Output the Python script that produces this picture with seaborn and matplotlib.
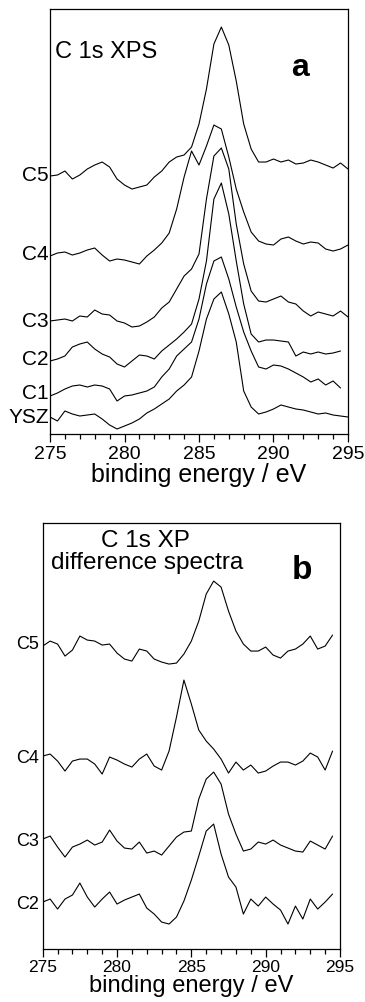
import numpy as np
import pandas as pd
import matplotlib
matplotlib.use("Agg")
import matplotlib.pyplot as plt
import matplotlib.transforms as mtransforms
from matplotlib.ticker import MultipleLocator
import seaborn as sns

# ---------------- data (arbitrary intensity units) -------------
energy_a = np.arange(275.0, 295.01, 0.5)   # 41 points
energy_b = np.arange(275.0, 294.51, 0.5)   # 40 points

nan = np.nan
# panel a: C 1s XPS spectra
a_C5 = [258, 259, 263, 255, 259, 265, 269, 272, 267, 255, 249, 245, 247, 249, 257, 263, 272, 277, 279, 287,
        310, 345, 390, 407, 389, 353, 310, 285, 272, 272, 275, 272, 274, 270, 271, 274, 272, 269, 266, 271, 265]
a_C4 = [178, 181, 182, 179, 181, 184, 186, 179, 173, 175, 174, 172, 170, 178, 184, 191, 201, 225, 257, 283,
        269, 288, 309, 305, 277, 245, 222, 202, 193, 190, 189, 195, 197, 193, 190, 192, 191, 185, 183, 185, 189]
a_C3 = [113, 114, 115, 113, 118, 117, 124, 120, 119, 113, 111, 107, 108, 112, 117, 126, 132, 145, 158, 165,
        180, 235, 278, 286, 265, 210, 170, 143, 133, 132, 135, 138, 132, 130, 123, 118, 122, 120, 118, 123, 117]
a_C2 = [73, 75, 78, 87, 90, 92, 85, 80, 77, 70, 67, 73, 79, 78, 75, 83, 89, 95, 102, 110,
        135, 173, 235, 251, 220, 173, 130, 100, 92, 94, 94, 93, 92, 78, 82, 80, 82, 80, 81, 83, nan]
a_C1 = [38, 41, 45, 48, 49, 47, 49, 48, 45, 33, 38, 39, 41, 43, 47, 57, 65, 78, 85, 92,
        115, 150, 173, 177, 155, 127, 102, 83, 67, 65, 69, 68, 65, 61, 57, 52, 55, 49, 53, 46, nan]
a_YSZ = [17, 13, 23, 20, 18, 19, 20, 15, 9, 5, 8, 11, 15, 21, 25, 30, 35, 43, 49, 57,
         83, 115, 135, 142, 120, 92, 43, 27, 20, 22, 25, 29, 27, 25, 24, 22, 20, 21, 19, 18, 17]
names_a = ["C5", "C4", "C3", "C2", "C1", "YSZ"]
series_a = [a_C5, a_C4, a_C3, a_C2, a_C1, a_YSZ]

# panel b: C 1s XP difference spectra
b_C5 = [303, 308, 305, 293, 299, 313, 309, 308, 304, 305, 296, 290, 288, 300, 298, 290, 287, 285, 286, 295,
        308, 328, 355, 368, 362, 338, 318, 305, 298, 298, 302, 294, 291, 298, 300, 305, 313, 300, 303, 314]
b_C4 = [193, 195, 188, 178, 188, 190, 190, 185, 175, 192, 189, 185, 182, 190, 195, 183, 179, 198, 232, 269,
        245, 219, 208, 200, 190, 176, 187, 179, 184, 176, 178, 183, 187, 187, 184, 188, 196, 192, 179, 198]
b_C3 = [110, 113, 102, 92, 102, 105, 109, 104, 107, 119, 108, 101, 100, 107, 96, 98, 94, 103, 112, 117,
        118, 150, 170, 177, 165, 135, 115, 98, 100, 107, 105, 109, 104, 101, 98, 97, 108, 104, 100, 113]
b_C2 = [47, 50, 40, 50, 54, 66, 52, 42, 50, 57, 45, 49, 52, 55, 41, 35, 27, 25, 32, 48,
        69, 93, 118, 125, 95, 72, 62, 35, 50, 43, 52, 45, 39, 25, 43, 30, 50, 40, 47, 55]
names_b = ["C5", "C4", "C3", "C2"]
series_b = [b_C5, b_C4, b_C3, b_C2]

xticks = [275, 280, 285, 290, 295]
xlabel = "binding energy / eV"


def long_frame(energy, names, series):
    frames = []
    for n, s in zip(names, series):
        frames.append(pd.DataFrame({"energy": energy, "intensity": s, "series": n}))
    return pd.concat(frames, ignore_index=True).dropna()


df_a = long_frame(energy_a, names_a, series_a)
df_b = long_frame(energy_b, names_b, series_b)

# ---------------- style ----------------
sns.set_style("ticks")
plt.rcParams["font.family"] = ["Liberation Sans", "DejaVu Sans"]
plt.rcParams["axes.linewidth"] = 0.9
plt.rcParams["axes.edgecolor"] = "black"
plt.rcParams["text.color"] = "black"
plt.rcParams["axes.labelcolor"] = "black"
plt.rcParams["xtick.color"] = "black"
plt.rcParams["ytick.color"] = "black"

fig = plt.figure(figsize=(3.65, 10.03), dpi=100)
ax_a = fig.add_axes([0.137, 0.5663, 0.8164, 0.4237])
ax_b = fig.add_axes([0.117, 0.0528, 0.8145, 0.4247])


def style_axis(ax, ymax, ticksize, tickpad, labelsize, labelpad):
    ax.set_xlim(275, 295)
    ax.set_ylim(0, ymax)
    ax.set_yticks([])
    ax.set_ylabel("")
    ax.set_xticks(xticks)
    ax.xaxis.set_minor_locator(MultipleLocator(1))
    ax.tick_params(axis="x", which="major", direction="out", length=6, width=0.9,
                   labelsize=ticksize, pad=tickpad, colors="black")
    ax.tick_params(axis="x", which="minor", direction="out", length=3.5, width=0.9, colors="black")
    ax.set_xlabel(xlabel, fontsize=labelsize, labelpad=labelpad, color="black")
    for sp in ax.spines.values():
        sp.set_visible(True)
        sp.set_color("black")
        sp.set_linewidth(0.9)


for ax, df, names, series, ymax, lsize, gap in [
    (ax_a, df_a, names_a, series_a, 425, 15, 0.004),
    (ax_b, df_b, names_b, series_b, 426, 13, 0.014),
]:
    sns.lineplot(data=df, x="energy", y="intensity", units="series", estimator=None,
                 color="black", linewidth=0.8, ax=ax, legend=False)
    trans = mtransforms.blended_transform_factory(ax.transAxes, ax.transData)
    for n, s in zip(names, series):
        ax.text(-gap, np.nanmean(s[:3]), n, transform=trans, ha="right", va="center",
                fontsize=lsize, color="black")

style_axis(ax_a, 425, 14, 2, 18, 0)
style_axis(ax_b, 426, 12.5, 1, 17, 0.5)

ax_a.text(0.017, 0.901, "C 1s XPS", transform=ax_a.transAxes, ha="left", va="center",
          fontsize=17, color="black")
ax_a.text(0.839, 0.8635, "a", transform=ax_a.transAxes, ha="center", va="center",
          fontsize=23, fontweight="bold", color="black")

ax_b.text(0.347, 0.960, "C 1s XP", transform=ax_b.transAxes, ha="center", va="center",
          fontsize=17.5, color="black")
ax_b.text(0.351, 0.908, "difference spectra", transform=ax_b.transAxes, ha="center", va="center",
          fontsize=17.5, color="black")
ax_b.text(0.872, 0.892, "b", transform=ax_b.transAxes, ha="center", va="center",
          fontsize=24, fontweight="bold", color="black")

fig.savefig("out.png", dpi=100)
